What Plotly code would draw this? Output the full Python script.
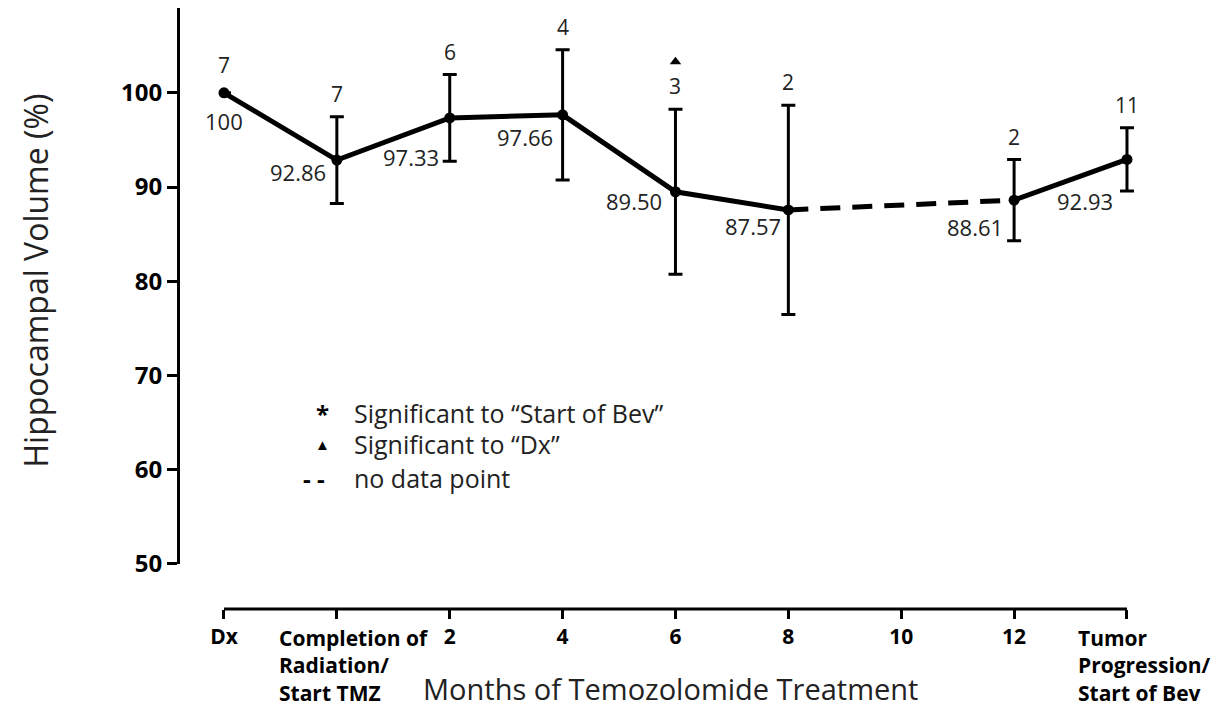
import plotly.graph_objects as go

# ---- data ----
tick_labels = ["Dx", "", "2", "4", "6", "8", "10", "12", ""]
multi_labels = {1: "Completion of<br>Radiation/<br>Start TMZ", 8: "Tumor<br>Progression/<br>Start of Bev"}
x_idx = [0, 1, 2, 3, 4, 5, 7, 8]
means = [100, 92.86, 97.33, 97.66, 89.50, 87.57, 88.61, 92.93]
sem = [0, 4.6, 4.6, 6.9, 8.75, 11.1, 4.3, 3.35]
n_vals = [7, 7, 6, 4, 3, 2, 2, 11]
value_text = ["100", "92.86", "97.33", "97.66", "89.50", "87.57", "88.61", "92.93"]
sig_dx_idx = [4]
sig_dx_y = [103.3]
y_ticks = [50, 60, 70, 80, 90, 100]

# label offsets (style)
val_offsets = [(0, -28), (-39, -12), (-39, -39), (-38, -22), (-41, -9), (-35, -16), (-39, -27), (-42, -42)]

FONT = "Open Sans"
TXT = "#222"
fig = go.Figure()

err = dict(type="data", color="black", thickness=3, width=7)
fig.add_trace(go.Scatter(x=x_idx[:6], y=means[:6], mode="lines+markers", cliponaxis=False,
                         line=dict(color="black", width=5), marker=dict(size=11, color="black"),
                         error_y=dict(err, array=sem[:6]),
                         showlegend=False, hoverinfo="skip"))
fig.add_trace(go.Scatter(x=x_idx[5:7], y=means[5:7], mode="lines", cliponaxis=False,
                         line=dict(color="black", width=5, dash="20px,12px"),
                         showlegend=False, hoverinfo="skip"))
fig.add_trace(go.Scatter(x=x_idx[6:], y=means[6:], mode="lines+markers", cliponaxis=False,
                         line=dict(color="black", width=5), marker=dict(size=11, color="black"),
                         error_y=dict(err, array=sem[6:]),
                         showlegend=False, hoverinfo="skip"))
fig.add_trace(go.Scatter(x=sig_dx_idx, y=sig_dx_y, mode="markers", cliponaxis=False,
                         marker=dict(symbol="triangle-up", size=10, color="black"),
                         showlegend=False, hoverinfo="skip"))

ann = []
for xi, m, s, n, vt, (dx, dy) in zip(x_idx, means, sem, n_vals, value_text, val_offsets):
    ann.append(dict(x=xi, y=m + s, text=str(n), showarrow=False, yanchor="bottom",
                    yshift=7 if s > 0 else 12, font=dict(family=FONT, size=21, color=TXT)))
    ann.append(dict(x=xi, y=m, text=vt, showarrow=False, xshift=dx, yshift=dy,
                    font=dict(family=FONT, size=22, color=TXT)))

for xi, txt in multi_labels.items():
    ann.append(dict(x=xi, y=0, yref="paper", text="<b>" + txt + "</b>", showarrow=False,
                    xanchor="left", yanchor="top", align="left", xshift=-60 if xi == 1 else -51, yshift=-13,
                    font=dict(family=FONT, size=21, color="black")))

# in-plot key
key = [("*", 'Significant to “Start of Bev”', 66.0), ("▲", 'Significant to “Dx”', 62.7), ("- -", "no data point", 59.1)]
for sym, txt, yv in key:
    ann.append(dict(x=0.87 if sym != "- -" else 0.80, y=yv, text="<b>" + sym + "</b>" if sym != "▲" else sym,
                    showarrow=False,
                    font=dict(family=FONT, size=24 if sym != "▲" else 15, color="black")))
    ann.append(dict(x=1.13, y=yv, text=txt, showarrow=False, xanchor="left",
                    font=dict(family=FONT, size=25, color=TXT)))

# axis titles
ann.append(dict(x=0.5136, y=-0.133, xref="paper", yref="paper", text="Months of Temozolomide Treatment",
                showarrow=False, yanchor="middle", xanchor="center", borderpad=0,
                font=dict(family=FONT, size=29, color=TXT)))
ann.append(dict(x=-0.149, y=0.547, xref="paper", yref="paper", text="Hippocampal Volume (%)",
                showarrow=False, textangle=-90, xanchor="center", yanchor="middle",
                font=dict(family=FONT, size=32, color=TXT)))

fig.update_layout(
    width=1221, height=709,
    margin=dict(l=170, r=93, t=0, b=108, autoexpand=False),
    plot_bgcolor="white", paper_bgcolor="white",
    annotations=ann,
    shapes=[dict(type="line", xref="x", yref="paper", x0=0, x1=8, y0=0, y1=0,
                 line=dict(color="black", width=3))],
    xaxis=dict(range=[0, 8.08], domain=[0.048, 1], anchor="free", position=0, automargin=False,
               tickmode="array", tickvals=list(range(9)),
               ticktext=["<b>" + t + "</b>" for t in tick_labels],
               showline=False, ticks="outside", ticklen=9,
               tickwidth=3, tickcolor="black", showgrid=False, zeroline=False,
               tickfont=dict(family=FONT, size=21, color="black")),
    yaxis=dict(range=[50, 109], domain=[0.0749, 1], anchor="free", position=0, automargin=False,
               tickvals=y_ticks, ticktext=["<b>%d</b>" % v for v in y_ticks],
               showline=True, linecolor="black", linewidth=3, ticks="outside", ticklen=10,
               tickwidth=3, tickcolor="black", showgrid=False, zeroline=False,
               tickfont=dict(family=FONT, size=24, color="black")),
)

fig.write_html("out.html")
